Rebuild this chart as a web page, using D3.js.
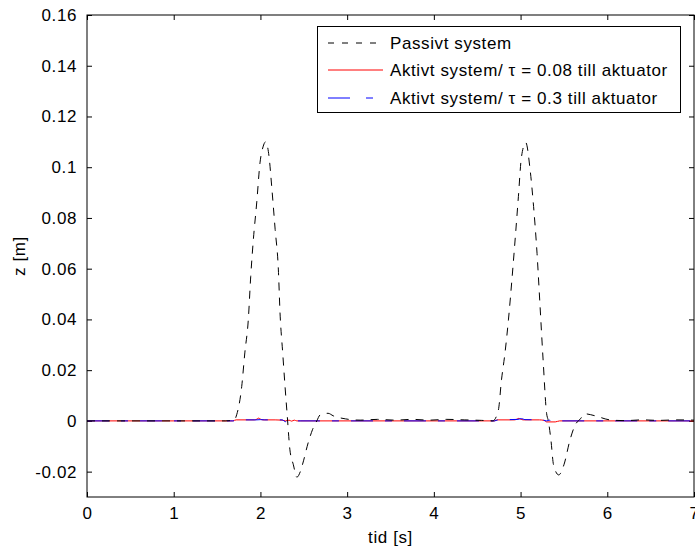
<!DOCTYPE html>
<html>
<head>
<meta charset="utf-8">
<script src="https://cdn.jsdelivr.net/npm/d3@7"></script>
<style>
    body { margin: 0; background: #fff; }
    text { font-family: "Liberation Sans", Arial, sans-serif; fill: #000; }
</style>
</head>
<body>
<svg id="chartSVG"></svg>
<script>
// tick values and labels
xTicks = [0, 1, 2, 3, 4, 5, 6, 7]
yTicks = [-0.02, 0, 0.02, 0.04, 0.06, 0.08, 0.1, 0.12, 0.14, 0.16]
yTickLabels = ["-0.02", "0", "0.02", "0.04", "0.06", "0.08", "0.1", "0.12", "0.14", "0.16"]

// passive system (dashed black)
passiveT = [0, 1.60, 1.70, 1.726, 1.784, 1.82, 1.86, 1.888, 1.918, 1.957, 1.995, 2.03, 2.06, 2.10, 2.13, 2.17, 2.207, 2.226, 2.257, 2.284, 2.31, 2.34, 2.38, 2.42, 2.46, 2.49, 2.55, 2.60, 2.65, 2.69, 2.78, 2.84, 2.98, 3.15, 3.35, 3.55, 3.75, 3.95, 4.15, 4.35, 4.55, 4.68,
    4.744, 4.78, 4.82, 4.86, 4.90, 4.94, 4.975, 5.01, 5.06, 5.11, 5.15, 5.19, 5.225, 5.26, 5.30, 5.32, 5.35, 5.38, 5.44, 5.50, 5.57, 5.63, 5.69, 5.74, 5.86, 6.03, 6.2, 6.4, 6.6, 6.8, 7.0]
passiveZ = [0, 0, 0.0004, 0.0024, 0.0135, 0.0268, 0.0398, 0.0569, 0.0713, 0.0859, 0.1017, 0.108, 0.110, 0.104, 0.0924, 0.0754, 0.0595, 0.0426, 0.0268, 0.0135, 0.0017, -0.0114, -0.0173, -0.0222, -0.0200, -0.0166, -0.0087, -0.0035, 0, 0.0024, 0.0030, 0.0020, 0.0008, 0.0003, 0.0006, 0.0003, 0.0006, 0.0003, 0.0006, 0.0004, 0.0002, 0,
    0.0043, 0.0162, 0.0267, 0.0398, 0.0556, 0.0727, 0.0884, 0.104, 0.1097, 0.099, 0.0845, 0.066, 0.045, 0.024, 0.003, 0, -0.0075, -0.0173, -0.0213, -0.0173, -0.0075, -0.0016, 0.0008, 0.0028, 0.0020, 0.0004, 0.0001, 0.0004, 0.0002, 0.0004, 0.0003]

// active system, tau = 0.08 (solid red)
redT = [0, 1.68, 1.72, 1.93, 1.96, 1.98, 2.00, 2.03, 2.17, 2.25, 2.29, 2.33, 2.36, 2.39, 2.42, 2.46, 4.70, 4.73, 4.93, 4.96, 4.98, 5.00, 5.03, 5.22, 5.27, 5.30, 5.40, 5.45, 7.0]
redZ = [0, 0, 0.0004, 0.0004, 0.0007, 0.0011, 0.0007, 0.0004, 0.0004, 0.0003, 0, 0.0003, -0.0001, 0.0003, 0, 0, 0, 0.0004, 0.0004, 0.0007, 0.0010, 0.0007, 0.0004, 0.0004, 0.0002, -0.0004, -0.0004, 0, 0]

// active system, tau = 0.3 (dash-dot blue)
blueT = [0, 1.70, 1.74, 1.95, 2.00, 2.05, 2.25, 2.29, 2.31, 2.34, 4.70, 4.74, 4.97, 5.01, 5.05, 5.25, 5.30, 5.33, 5.36, 7.0]
blueZ = [0, 0, 0.0004, 0.0004, 0.0005, 0.0004, 0.0004, -0.0003, 0.0002, 0, 0, 0.0004, 0.0006, 0.0009, 0.0005, 0.0004, 0, 0.0003, 0, 0]

legendLabels = ["Passivt system", "Aktivt system/ \u03c4 = 0.08 till aktuator", "Aktivt system/ \u03c4 = 0.3 till aktuator"]

function drawChart() {
    let width = 695;
    let height = 548;

    let paddingLeft = 87;
    let paddingRight = 1;
    let paddingTop = 15;
    let paddingBottom = 51;

    let svg = d3.select("#chartSVG")
        .attr("width", width)
        .attr("height", height);

    let xScale = d3.scaleLinear()
        .domain([0, 7])
        .range([paddingLeft, width - paddingRight]);

    let yScale = d3.scaleLinear()
        .domain([-0.03, 0.16])
        .range([height - paddingBottom, paddingTop]);

    let tickLen = 5;
    let fontSize = 17;
    let spacing = "0.6px"; // the original text is a little wider than Arial

    // bottom axis with labels
    let xAxis = d3.axisBottom(xScale)
        .tickValues(xTicks)
        .tickSize(-tickLen)
        .tickPadding(tickLen + 5)
        .tickFormat(d3.format("d"));

    svg.append("g")
        .attr("transform", "translate(0," + yScale.range()[0] + ")")
        .call(xAxis);

    // top axis, ticks only
    svg.append("g")
        .attr("transform", "translate(0," + yScale.range()[1] + ")")
        .call(d3.axisTop(xScale).tickValues(xTicks).tickSize(-tickLen).tickFormat(""));

    let yAxis = d3.axisLeft(yScale)
        .tickValues(yTicks)
        .tickSize(-tickLen)
        .tickPadding(tickLen + 5)
        .tickFormat((d, i) => yTickLabels[i]);

    svg.append("g")
        .attr("transform", "translate(" + xScale.range()[0] + ",0)")
        .call(yAxis);

    svg.append("g")
        .attr("transform", "translate(" + xScale.range()[1] + ",0)")
        .call(d3.axisRight(yScale).tickValues(yTicks).tickSize(-tickLen).tickFormat(""));

    svg.selectAll(".domain").remove();
    svg.selectAll(".tick line").attr("stroke", "#000");
    svg.selectAll(".tick text")
        .style("font-family", "Liberation Sans, Arial, sans-serif")
        .style("font-size", fontSize + "px")
        .style("letter-spacing", spacing)
        .attr("fill", "#000");

    // plot lines
    let line = d3.line()
        .x(d => xScale(d[0]))
        .y(d => yScale(d[1]))
        .curve(d3.curveMonotoneX);

    let passive = d3.zip(passiveT, passiveZ);
    let red = d3.zip(redT, redZ);
    let blue = d3.zip(blueT, blueZ);

    svg.append("path")
        .datum(red)
        .attr("fill", "none")
        .attr("stroke", "#ff0000")
        .attr("stroke-width", 1)
        .attr("d", line);

    svg.append("path")
        .datum(blue)
        .attr("fill", "none")
        .attr("stroke", "#0000ff")
        .attr("stroke-width", 1)
        .attr("stroke-dasharray", "22,12,7,12")
        .attr("d", line);

    svg.append("path")
        .datum(passive)
        .attr("fill", "none")
        .attr("stroke", "#000")
        .attr("stroke-width", 1)
        .attr("stroke-dasharray", "8,7")
        .attr("d", line);

    // axes box
    svg.append("rect")
        .attr("x", xScale.range()[0])
        .attr("y", yScale.range()[1])
        .attr("width", xScale.range()[1] - xScale.range()[0])
        .attr("height", yScale.range()[0] - yScale.range()[1])
        .attr("fill", "none")
        .attr("stroke", "#000")
        .attr("stroke-width", 1);

    // axis labels
    svg.append("text")
        .attr("x", (xScale.range()[0] + xScale.range()[1]) / 2)
        .attr("y", 543)
        .attr("text-anchor", "middle")
        .style("font-size", fontSize + "px")
        .style("letter-spacing", spacing)
        .text("tid [s]");

    svg.append("text")
        .attr("transform", "translate(25," + (yScale.range()[0] + yScale.range()[1]) / 2 + ") rotate(-90)")
        .attr("text-anchor", "middle")
        .style("font-size", fontSize + "px")
        .style("letter-spacing", spacing)
        .text("z [m]");

    // legend
    let legend = svg.append("g");
    legend.append("rect")
        .attr("x", 317.5)
        .attr("y", 26.5)
        .attr("width", 363)
        .attr("height", 86)
        .attr("fill", "#fff")
        .attr("stroke", "#000");

    let rowY = [43, 70, 98];
    let styles = [
        { color: "#000", dash: "6,8" },
        { color: "#ff0000", dash: null },
        { color: "#0000ff", dash: "22,16,7,100" }
    ];

    legendLabels.forEach((label, i) => {
        legend.append("line")
            .attr("x1", 328)
            .attr("x2", 383)
            .attr("y1", rowY[i])
            .attr("y2", rowY[i])
            .attr("stroke", styles[i].color)
            .attr("stroke-dasharray", styles[i].dash);
        legend.append("text")
            .attr("x", 390)
            .attr("y", rowY[i])
            .attr("dy", "0.35em")
            .style("font-size", fontSize + "px")
            .style("letter-spacing", spacing)
            .text(label);
    });
}

drawChart();
</script>
</body>
</html>
